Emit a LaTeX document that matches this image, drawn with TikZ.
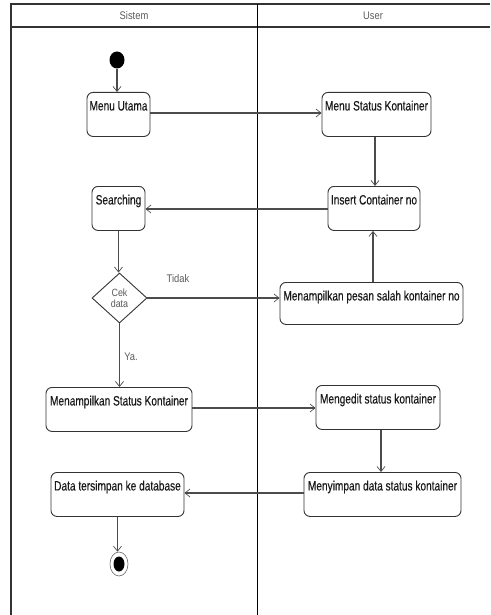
\documentclass[tikz,border=0pt]{standalone}
\usepackage{fontspec}
\newfontfamily\diafont[FakeStretch=0.75,FakeBold=0.4]{Liberation Sans}
\newfontfamily\lanefont[FakeStretch=0.85]{Liberation Sans}
\usetikzlibrary{arrows.meta,shapes.geometric,calc}

\tikzset{
  act/.style={draw=black!80, line width=0.9pt, rounded corners=6pt, fill=white,
    font=\diafont\fontsize{13.5}{15}\selectfont, text=black!90,
    text height=10pt, text depth=18pt, inner ysep=8pt, inner xsep=0pt, anchor=north},
  flow/.style={draw=black!70, line width=1.2pt,
    -{Straight Barb[length=5pt,width=8pt,line width=0.7pt]}},
  thin label/.style={font=\lanefont\fontsize{11}{12}\selectfont, text=black!65, inner sep=0pt},
  lane/.style={draw=black!80, line width=1.5pt},
}

\begin{document}
\begin{tikzpicture}[x=1pt,y=-1pt]
\useasboundingbox (0,0) rectangle (490,615);

% swimlane frame
\draw[lane] (11,615) -- (11,4) -- (490,4);
\draw[lane] (11,27) -- (490,27);
\draw[draw=black, line width=1pt] (257,4) -- (257,615);
\node[thin label] (lsys) at (134,16) {Sistem};
\node[thin label] (lusr) at (373,16) {User};

% start and end
\node[fill=black, ellipse, minimum width=15pt, minimum height=17pt, inner sep=0pt] (start) at (117,60) {};
\node[draw=black!60, line width=0.6pt, ellipse, minimum width=18pt, minimum height=24pt, inner sep=0pt] (end) at (119,564) {};
\node[fill=black, ellipse, minimum width=11pt, minimum height=15pt, inner sep=0pt] (endc) at (end) {};

% activities
\node[act, minimum width=63pt]  (mu)     at (118.5,92)  {Menu Utama};
\node[act, minimum width=109pt] (msk)    at (376.5,92)  {Menu Status Kontainer};
\node[act, minimum width=53pt]  (srch)   at (118.5,186) {Searching};
\node[act, minimum width=92pt]  (ins)    at (374,186)   {Insert Container no};
\node[act, minimum width=183pt, text depth=16pt] (pesan) at (371.5,282) {Menampilkan pesan salah kontainer no};
\node[act, minimum width=146pt] (mst)    at (119,387)   {Menampilkan Status Kontainer};
\node[act, minimum width=124pt] (edit)   at (378,385)   {Mengedit status kontainer};
\node[act, minimum width=157pt] (simpan) at (382.5,472) {Menyimpan data status kontainer};
\node[act, minimum width=133pt] (data)   at (117.5,472) {Data tersimpan ke database};

% decision
\node[diamond, draw=black!80, line width=0.9pt, fill=white, minimum width=55pt, minimum height=50pt,
  inner sep=0pt, align=center, font=\lanefont\fontsize{10.5}{11}\selectfont, text=black!65] (dec) at (119.5,298) {Cek\\data};

% flows
\draw[flow] (start) -- (start |- mu.north);
\draw[flow] ([yshift=-21pt]mu.north east) -- ([yshift=-21pt]msk.north west);
\draw[flow] ([xshift=-1.5pt]msk.south) -- ([xshift=-1.5pt]msk.south |- ins.north);
\draw[flow] ([yshift=-23pt]ins.north west) -- ([yshift=-23pt]srch.north east);
\draw[flow] (srch.south) -- (srch.south |- dec.north);
\draw[flow] (dec.east) -- (dec.east -| pesan.west);
\node[thin label] (ltidak) at (178,279) {Tidak};
\draw[flow] ([xshift=1.5pt]pesan.north) -- ([xshift=1.5pt]pesan.north |- ins.south);
\draw[flow] (dec.south) -- (dec.south |- mst.north);
\node[thin label] (lya) at (131,357) {Ya.};
\draw[flow] ([yshift=-21pt]mst.north east) -- ([yshift=-21pt]mst.north east -| edit.west);
\draw[flow] ([xshift=3pt]edit.south) -- ([xshift=3pt]edit.south |- simpan.north);
\draw[flow] ([yshift=-21pt]simpan.north west) -- ([yshift=-21pt]simpan.north west -| data.east);
\draw[flow] (data.south) -- (data.south |- end.north);
\end{tikzpicture}
\end{document}
